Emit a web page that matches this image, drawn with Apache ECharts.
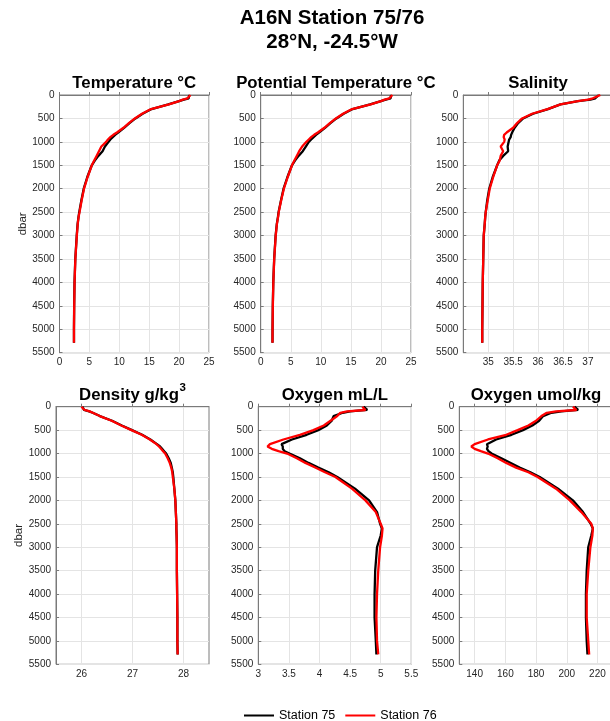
<!DOCTYPE html>
<html><head><meta charset="utf-8">
<script src="https://cdn.jsdelivr.net/npm/echarts@6/dist/echarts.min.js"></script>
<style>html,body{margin:0;padding:0;background:#fff}#c{width:610px;height:721px}</style>
</head><body><div id="c"></div>
<script>
// ---- data ----
const depth = [0,30,70,100,130,200,300,400,500,600,700,800,850,900,950,1000,1100,1200,1300,1400,1500,1750,2000,2250,2500,2600,2750,3000,3500,4000,4500,5000,5290];
const temp75 = [21.7,21.8,21.6,20.8,20.0,18.2,15.4,13.9,12.7,11.7,10.8,9.8,9.3,8.9,8.5,8.2,7.6,7.2,6.5,5.9,5.4,4.65,4.05,3.65,3.3,3.18,3.03,2.88,2.64,2.51,2.45,2.42,2.42];
const temp76 = [21.9,21.8,21.4,20.6,20.0,18.3,15.3,13.8,12.6,11.6,10.7,9.6,9.0,8.5,8.1,7.8,7.0,6.6,6.2,5.8,5.4,4.7,4.1,3.7,3.35,3.2,3.05,2.9,2.65,2.52,2.46,2.42,2.42];
const ptemp75 = [21.7,21.8,21.6,20.8,20.0,18.2,15.3,13.8,12.6,11.6,10.7,9.7,9.2,8.8,8.4,8.0,7.5,7.0,6.3,5.7,5.2,4.45,3.8,3.37,2.97,2.87,2.68,2.48,2.24,2.09,2.01,1.97,1.96];
const ptemp76 = [21.9,21.8,21.4,20.6,20.0,18.3,15.2,13.7,12.5,11.5,10.6,9.5,8.9,8.4,8.0,7.6,6.9,6.4,6.0,5.6,5.2,4.5,3.85,3.4,3.0,2.9,2.7,2.5,2.25,2.1,2.02,1.97,1.96];
const sal75 = [37.22,37.25,37.15,37.05,36.8,36.45,36.2,35.9,35.7,35.6,35.53,35.48,35.46,35.45,35.42,35.41,35.39,35.4,35.3,35.22,35.18,35.09,35.02,34.98,34.95,34.94,34.93,34.91,34.9,34.89,34.885,34.88,34.88];
const sal76 = [37.25,37.22,37.1,37.0,36.8,36.45,36.19,35.88,35.68,35.58,35.5,35.37,35.32,35.31,35.33,35.32,35.25,35.3,35.25,35.23,35.18,35.1,35.03,34.99,34.95,34.94,34.93,34.91,34.9,34.89,34.885,34.88,34.88];
const dens75 = [26.02,26.03,26.05,26.15,26.22,26.36,26.6,26.79,26.99,27.19,27.35,27.48,27.54,27.58,27.62,27.66,27.71,27.75,27.77,27.79,27.8,27.82,27.84,27.85,27.86,27.86,27.865,27.87,27.87,27.875,27.88,27.88,27.885];
const dens76 = [26.0,26.02,26.06,26.16,26.22,26.36,26.59,26.78,26.98,27.18,27.34,27.47,27.52,27.56,27.6,27.64,27.69,27.73,27.76,27.78,27.79,27.82,27.84,27.85,27.86,27.86,27.865,27.87,27.87,27.875,27.88,27.88,27.885];
const oxml75 = [4.72,4.74,4.78,4.5,4.38,4.23,4.2,4.12,3.98,3.79,3.55,3.38,3.4,3.4,3.43,3.51,3.68,3.82,3.98,4.15,4.29,4.58,4.81,4.94,4.99,5.02,5.0,4.94,4.91,4.9,4.9,4.92,4.93];
const oxml76 = [4.70,4.72,4.75,4.45,4.34,4.29,4.18,4.07,3.9,3.68,3.41,3.19,3.15,3.22,3.33,3.47,3.63,3.77,3.93,4.09,4.26,4.53,4.75,4.92,5.0,5.03,5.02,4.99,4.96,4.94,4.93,4.94,4.96];
const oxum75 = [205,206,207.4,196.5,190,184.6,182,177.6,171.5,164,154,148,148.5,148,149,151,157.4,163.5,169.3,176.3,182.4,194.3,204,210.6,215.6,217,216,214,213,212.5,212.5,213,213.5];
const oxum76 = [204,205,206.3,193,187,183.5,180,175,168,160.6,148.7,140,137.8,140,144,148.7,155,160.6,167,175,181,193,202,209.5,216,217,216.7,215.4,214,213,213,214,214.6];

const tempTicks = [0,5,10,15,20,25];
const salTicks = [35,35.5,36,36.5,37];
const densTicks = [26,27,28];
const oxmlTicks = [3,3.5,4,4.5,5,5.5];
const oxumTicks = [140,160,180,200,220];
const stationNames = ['Station 75','Station 76'];
const mainTitle = ['A16N Station 75/76','28°N, -24.5°W'];

// ---- layout ----
const FONT = '"Liberation Sans", Arial, Helvetica, sans-serif';
const panels = [
  {title:'Temperature °C', a:temp75, b:temp76, ticks:tempTicks, min:0, max:25, g:[59.5,95,149.5,257.7], yname:true},
  {title:'Potential Temperature °C', a:ptemp75, b:ptemp76, ticks:tempTicks, min:0, max:25, g:[260.7,95,150.3,257.7]},
  {title:'Salinity', a:sal75, b:sal76, ticks:salTicks, min:34.5, max:37.5, g:[463.3,95,149.5,257.7]},
  {title:'Density g/kg', sup:'3', a:dens75, b:dens76, ticks:densTicks, min:25.5, max:28.5, g:[56,406.7,153,257.6], yname:true},
  {title:'Oxygen mL/L', a:oxml75, b:oxml76, ticks:oxmlTicks, min:3, max:5.5, g:[258.3,406.7,153,257.6]},
  {title:'Oxygen umol/kg', a:oxum75, b:oxum76, ticks:oxumTicks, min:130, max:230, g:[459.3,406.7,153.5,257.6]}
];
const axisCol = '#7a7a7a', gridCol = '#e4e4e4', txtCol = '#262626';
const grids = [], xAxes = [], yAxes = [], series = [], graphics = [];
const plain = v => String(v);
panels.forEach((p, i) => {
  grids.push({left:p.g[0], top:p.g[1], width:p.g[2], height:p.g[3], show:true, borderColor:axisCol, borderWidth:1, backgroundColor:'transparent', outerBoundsMode:'none', containLabel:false});
  xAxes.push({type:'value', gridIndex:i, min:p.min, max:p.max, position:'bottom',
    axisLine:{show:true, lineStyle:{color:axisCol, width:1}},
    axisTick:{show:true, inside:true, length:3, lineStyle:{color:axisCol}, customValues:p.ticks},
    axisLabel:{color:txtCol, fontSize:10, fontFamily:FONT, margin:5, customValues:p.ticks, showMinLabel:true, showMaxLabel:true, formatter:plain},
    splitLine:{show:true, lineStyle:{color:gridCol, width:1}}});
  yAxes.push({type:'value', gridIndex:i, min:0, max:5500, interval:500, inverse:true,
    name: p.yname ? 'dbar' : '', nameLocation:'middle', nameGap:28, nameRotate:90,
    nameTextStyle:{color:txtCol, fontSize:11.5, fontFamily:FONT},
    axisLine:{show:true, lineStyle:{color:axisCol, width:1}},
    axisTick:{show:true, inside:true, length:3, lineStyle:{color:axisCol}},
    axisLabel:{color:txtCol, fontSize:10, fontFamily:FONT, margin:5, showMinLabel:true, showMaxLabel:true, formatter:plain},
    splitLine:{show:true, lineStyle:{color:gridCol, width:1}}});
  [[p.a,'#000000',stationNames[0]],[p.b,'#ff0000',stationNames[1]]].forEach(([vals,col,nm]) => {
    series.push({type:'line', name:nm, xAxisIndex:i, yAxisIndex:i, symbol:'none', smooth:false,
      lineStyle:{color:col, width:2.3}, itemStyle:{color:col}, animation:false,
      data: depth.map((d,k) => [vals[k], d])});
  });
  const cx = p.g[0] + p.g[2]/2;
  const ty = p.g[1] - 11.5;
  const tstyle = {fontSize:16.8, fontWeight:'bold', fontFamily:FONT, fill:'#000', align:'center', textAlign:'center', verticalAlign:'middle', textVerticalAlign:'middle'};
  if (p.sup) {
    graphics.push({type:'text', x:cx-3.5, y:ty, style:Object.assign({text:p.title}, tstyle)});
    graphics.push({type:'text', x:cx+47, y:ty-7, style:{text:p.sup, fontSize:11.5, fontWeight:'bold', fontFamily:FONT, fill:'#000', align:'left', textAlign:'left', verticalAlign:'middle', textVerticalAlign:'middle'}});
  } else {
    graphics.push({type:'text', x:cx, y:ty, style:Object.assign({text:p.title}, tstyle)});
  }
});
const mstyle = {fontSize:20.5, fontWeight:'bold', fontFamily:FONT, fill:'#000', align:'center', textAlign:'center', verticalAlign:'middle', textVerticalAlign:'middle'};
graphics.push({type:'text', x:332, y:18.5, style:Object.assign({text:mainTitle[0]}, mstyle)});
graphics.push({type:'text', x:332, y:42, style:Object.assign({text:mainTitle[1]}, mstyle)});

const chart = echarts.init(document.getElementById('c'), null, {renderer:'canvas'});
chart.setOption({
  animation:false,
  backgroundColor:'#fff',
  grid:grids, xAxis:xAxes, yAxis:yAxes, series:series,
  graphic:graphics,
  legend:{data:stationNames, left:244, top:709, orient:'horizontal', itemWidth:30, itemHeight:14, itemGap:10,
    textStyle:{color:'#000', fontSize:12.5, fontFamily:FONT}, padding:0, icon:'path://M0,6L30,6L30,8L0,8Z'}
});
</script></body></html>
